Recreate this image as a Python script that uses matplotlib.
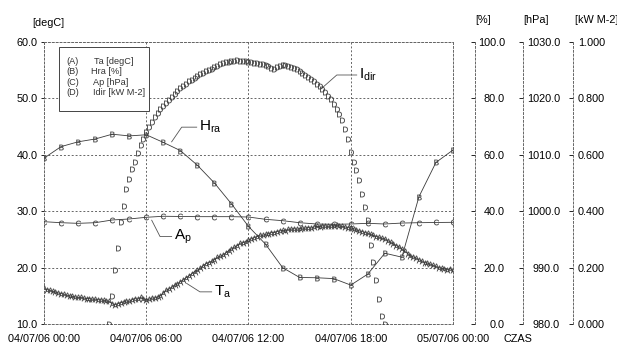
import numpy as np
import matplotlib
matplotlib.use('Agg')
import matplotlib.pyplot as plt

plt.rcParams['font.family'] = 'Liberation Sans'
plt.rcParams['mathtext.fontset'] = 'custom'
plt.rcParams['mathtext.rm'] = 'Liberation Sans'
plt.rcParams['mathtext.it'] = 'Liberation Sans'

"""data read off the chart, time in hours from 04/07/06 00:00"""
# Ta [degC], every 10 min
ta = [16.3, 16.1, 16.0, 15.8, 15.7, 15.5,
      15.4, 15.3, 15.1, 15.0, 14.9, 14.8,
      14.7, 14.7, 14.6, 14.5, 14.5, 14.4,
      14.4, 14.3, 14.3, 14.2, 14.1, 14.0,
      13.6, 13.4, 13.6, 13.8, 13.9, 14.1,
      14.0, 14.3, 14.5, 14.4, 14.7, 14.5,
      14.3, 14.4, 14.6, 14.6, 14.8, 15.0,
      15.5, 16.0, 16.2, 16.5, 16.9, 17.1,
      17.5, 17.8, 18.2, 18.5, 18.9, 19.3,
      19.5, 19.9, 20.3, 20.7, 20.9, 21.1,
      21.4, 21.8, 22.0, 22.2, 22.6, 23.0,
      23.3, 23.6, 23.9, 24.3, 24.4, 24.6,
      24.9, 25.1, 25.3, 25.5, 25.8, 25.7,
      25.9, 26.0, 26.2, 26.2, 26.4, 26.5,
      26.6, 26.5, 26.8, 26.8, 26.9, 26.8,
      26.9, 27.0, 27.0, 27.1, 27.0, 27.2,
      27.3, 27.2, 27.4, 27.4, 27.3, 27.4,
      27.4, 27.5, 27.4, 27.3, 27.2, 27.1,
      27.0, 26.9, 26.7, 26.5, 26.4, 26.2,
      26.1, 25.9, 25.7, 25.5, 25.4, 25.2,
      25.1, 24.8, 24.5, 24.2, 23.9, 23.7,
      23.3, 22.9, 22.5, 22.1, 21.9, 21.7,
      21.4, 21.2, 20.9, 20.8, 20.6, 20.4,
      20.2, 20.0, 19.9, 19.8, 19.6, 19.8,
      19.5]

# Hra [%], hourly
hra = [58.8, 62.9, 64.6, 65.6, 67.3, 66.7, 67.1, 64.4, 61.5, 56.3, 50.0,
       42.6, 34.6, 28.3, 20.0, 16.5, 16.4, 16.1, 13.8, 17.7, 25.1, 23.7,
       45.1, 57.3, 61.7]

# Ap [hPa], hourly
ap = [998.14, 997.96, 997.85, 997.96, 998.44, 998.62, 998.92, 999.10,
      999.07, 999.03, 999.03, 999.03, 998.97, 998.56, 998.32, 997.96,
      997.73, 997.68, 997.73, 997.85, 997.73, 997.90, 997.96, 998.00,
      998.03]

# Idir [kW M-2], every 10 min from 03:50 to 20:00
idir_start = 23  # index of 03:50 in 10 min steps
idir = [0.0, 0.10, 0.19, 0.27, 0.36, 0.42, 0.48, 0.515, 0.55, 0.575,
        0.605, 0.635, 0.655, 0.68, 0.70, 0.717, 0.733, 0.748, 0.761, 0.773,
        0.785, 0.795, 0.806, 0.816, 0.826, 0.836, 0.845, 0.852, 0.86, 0.867,
        0.873, 0.879, 0.885, 0.89, 0.896, 0.902, 0.906, 0.912, 0.916, 0.921,
        0.925, 0.928, 0.930, 0.932, 0.934, 0.935, 0.934, 0.932, 0.931, 0.929,
        0.928, 0.926, 0.925, 0.923, 0.921, 0.918, 0.914, 0.909, 0.906, 0.911,
        0.916, 0.919, 0.917, 0.915, 0.912, 0.908, 0.903, 0.897, 0.891, 0.884,
        0.876, 0.868, 0.86, 0.852, 0.843, 0.833, 0.822, 0.81, 0.797, 0.781,
        0.763, 0.744, 0.722, 0.693, 0.655, 0.61, 0.575, 0.545, 0.51, 0.46,
        0.415, 0.37, 0.28, 0.22, 0.155, 0.09, 0.03, 0.0]

xticks = [0, 6, 12, 18, 24]
xlabels = ['04/07/06 00:00', '04/07/06 06:00', '04/07/06 12:00',
           '04/07/06 18:00', '05/07/06 00:00']

t_10 = np.arange(len(ta)) / 6.0
t_hr = np.arange(len(hra))
t_id = (np.arange(len(idir)) + idir_start) / 6.0

W, H = 617, 347
def fx(px):
    return px / W
def fy(py):
    return 1 - py / H

LC = '#3a3a3a'
GC = '#666666'
DOT = (0, (2, 2))
FS = 7.8

fig = plt.figure(figsize=(W / 100, H / 100), dpi=100)
ax = fig.add_axes([fx(44), fy(324), fx(453) - fx(44), fy(42) - fy(324)])

## main axis, degC
ax.set_xlim(0, 24)
ax.set_ylim(10, 60)
ax.set_xticks(xticks)
ax.set_xticklabels(xlabels, fontsize=FS)
ax.set_yticks(np.arange(10, 61, 10))
ax.yaxis.set_major_formatter(matplotlib.ticker.FormatStrFormatter('%.1f'))
ax.tick_params(axis='y', labelsize=FS, length=2.5, pad=2, width=0.6)
ax.tick_params(axis='x', length=0, pad=7)
ax.grid(True, linestyle=DOT, color=GC, linewidth=0.7)
for s in ax.spines.values():
    s.set_linestyle(DOT)
    s.set_color(GC)
    s.set_linewidth(0.7)

mk = dict(markersize=4.0, markeredgewidth=0.1)

ax.plot(t_10, ta, color=LC, lw=0.6, marker=r'$\mathregular{A}$',
        mfc=LC, mec=LC, **mk)

## right axes
def right_axis(pos, lo, hi, step, fmt, pad, align):
    a = ax.twinx()
    a.set_ylim(lo, hi)
    a.set_yticks(np.arange(lo, hi + step / 2, step))
    a.yaxis.set_major_formatter(matplotlib.ticker.FormatStrFormatter(fmt))
    for k in ['top', 'bottom', 'left']:
        a.spines[k].set_visible(False)
    a.spines['right'].set_position(('axes', pos))
    a.spines['right'].set_linestyle(DOT)
    a.spines['right'].set_color(GC)
    a.spines['right'].set_linewidth(0.7)
    a.tick_params(axis='y', direction='in', length=3, width=0.6,
                  labelsize=FS, pad=pad)
    for tk in a.yaxis.get_major_ticks():
        tk.label2.set_horizontalalignment(align)
    return a

ax_h = right_axis((475 - 44) / 409, 0, 100, 20, '%.1f', 21.6, 'right')
ax_p = right_axis((523 - 44) / 409, 980, 1030, 10, '%.1f', 26.6, 'right')
ax_i = right_axis((573 - 44) / 409, 0, 1.0, 0.2, '%.3f', 3.6, 'left')

ax_h.plot(t_hr, hra, color=LC, lw=0.6, marker=r'$\mathregular{B}$',
          mfc=LC, mec=LC, **mk)
ax_p.plot(t_hr, ap, color=LC, lw=0.6, marker=r'$\mathregular{C}$',
          mfc=LC, mec=LC, **mk)
ax_i.plot(t_id, idir, linestyle='none', marker=r'$\mathregular{D}$',
          mfc=LC, mec=LC, **mk)

## curve labels with leader lines
leaders = [
    ([16.3, 17.18, 18.35], [51.8, 54.15, 54.15], r'$\mathregular{I_{dir}}$'),
    ([7.49, 8.08, 8.96], [42.3, 44.9, 44.9], r'$\mathregular{H_{ra}}$'),
    ([6.32, 6.81, 7.49], [28.4, 25.5, 25.5], r'$\mathregular{A_{p}}$'),
    ([8.37, 9.15, 9.84], [17.2, 15.7, 15.7], r'$\mathregular{T_{a}}$'),
]
for xs, ys, lab in leaders:
    ax.plot(xs, ys, color='#555555', lw=0.6, zorder=5)
    ax.text(xs[-1] + 0.12, ys[-1], lab, fontsize=11, ha='left',
            va='center', zorder=5)

## legend box
fig.patches.append(matplotlib.patches.Rectangle(
    (fx(58.5), fy(111)), fx(149) - fx(58.5), fy(47.5) - fy(111),
    transform=fig.transFigure, fill=True, facecolor='white',
    edgecolor='#444444', linewidth=0.7, zorder=10))
leg_keys = ['(A)', '(B)', '(C)', '(D)']
leg_names = ['Ta [degC]', 'Hra [%]', 'Ap [hPa]', 'Idir [kW M-2]']
leg_x = [94, 91, 93, 93]
for i in range(4):
    yy = 61 + i * 10.6
    fig.text(fx(66.5), fy(yy), leg_keys[i], fontsize=6.6, va='center',
             color='#333333', zorder=11)
    fig.text(fx(leg_x[i]), fy(yy), leg_names[i], fontsize=6.6,
             va='center', color='#333333', zorder=11)

## unit labels
fig.text(fx(32), fy(23), '[degC]', fontsize=FS, va='center')
fig.text(fx(475), fy(20), '[%]', fontsize=FS, va='center')
fig.text(fx(523), fy(20), '[hPa]', fontsize=FS, va='center')
fig.text(fx(575), fy(20), '[kW M-2]', fontsize=FS, va='center')
fig.text(fx(503), fy(339), 'CZAS', fontsize=FS, va='center')

fig.savefig('out.png', dpi=100)
